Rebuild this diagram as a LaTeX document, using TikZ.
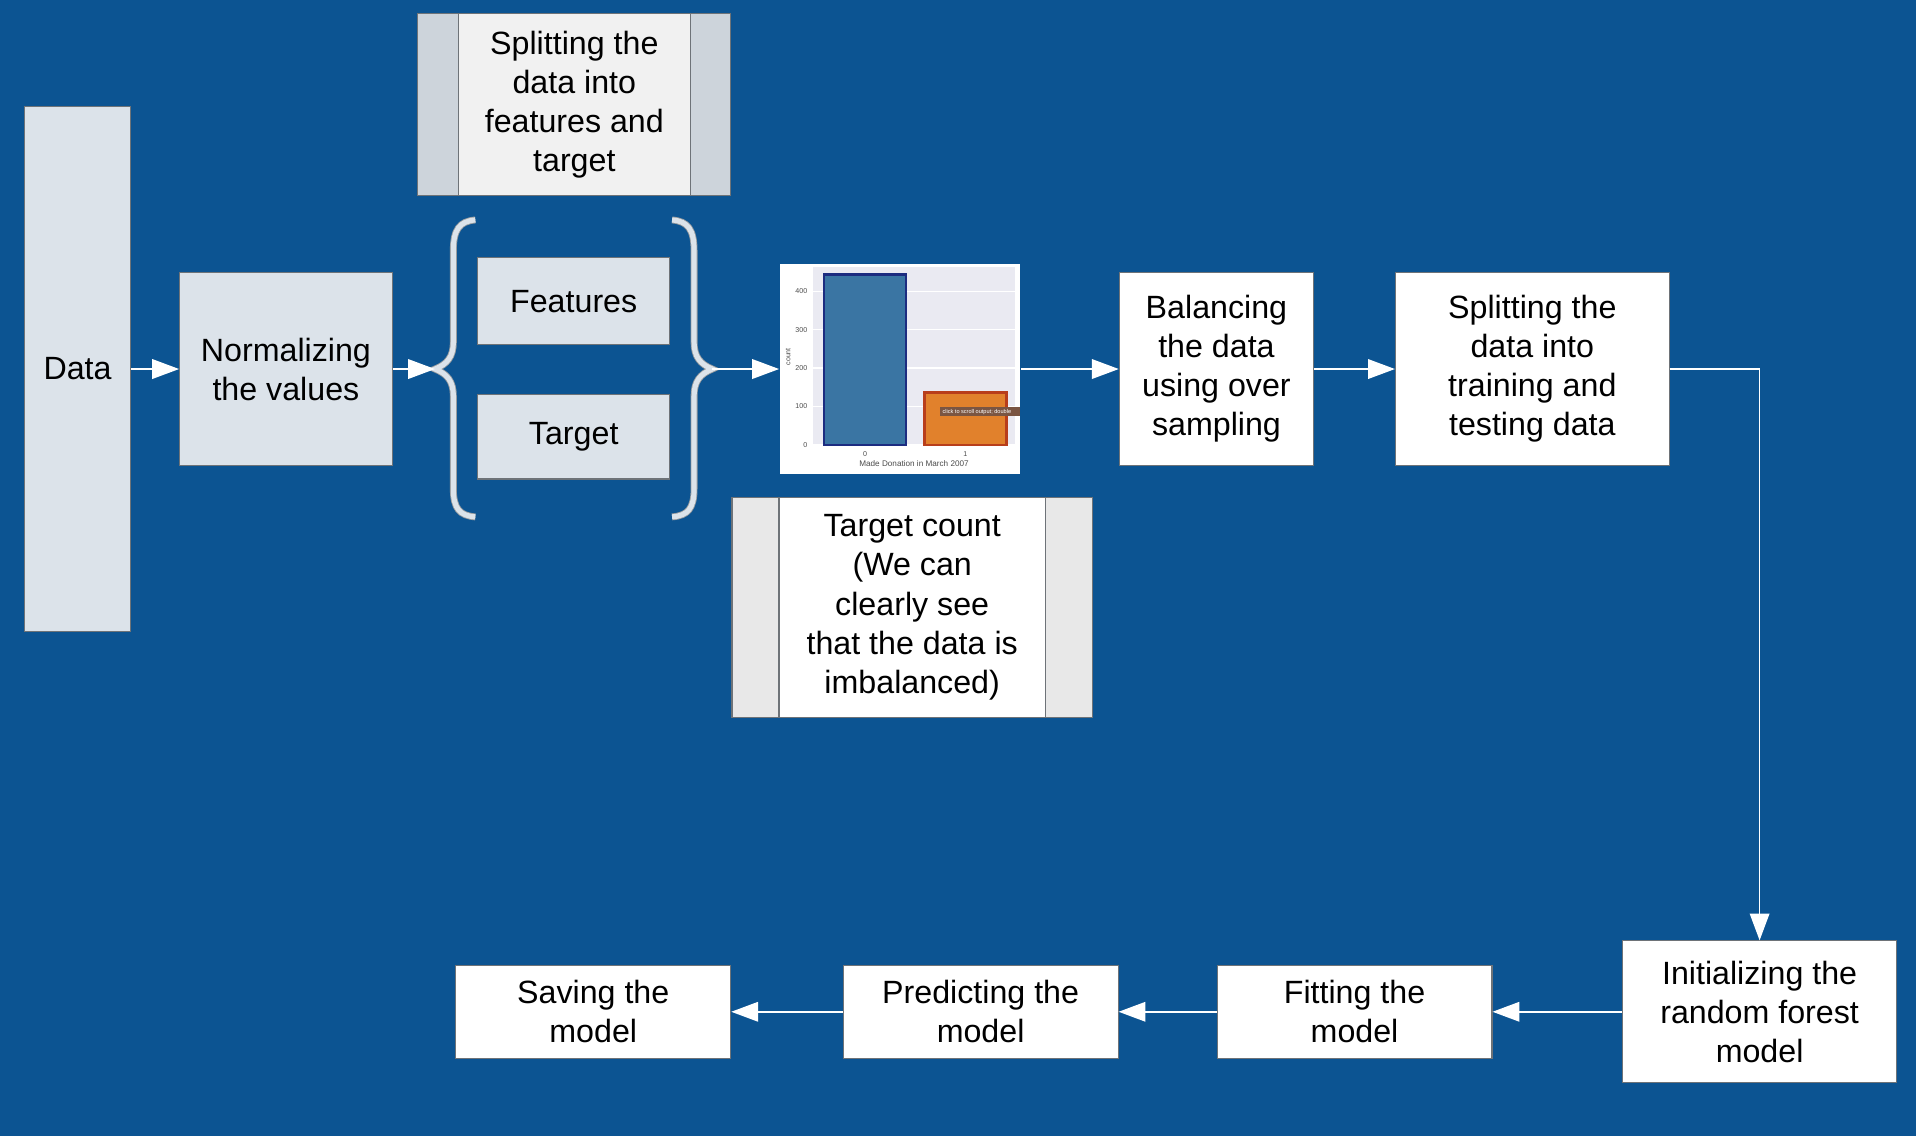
\documentclass[tikz,border=0pt]{standalone}
\usepackage{fontspec}
\setmainfont{Liberation Sans}
\usetikzlibrary{arrows.meta}
\definecolor{bgblue}{HTML}{0C5492}
\definecolor{boxline}{HTML}{6E7378}
\definecolor{lightfill}{HTML}{DCE3EA}
\definecolor{sidegray}{HTML}{CDD4DB}
\definecolor{innergray}{HTML}{F1F1F1}
\definecolor{sidelight}{HTML}{E8E8E8}
\definecolor{plotgray}{HTML}{EAEAF2}
\definecolor{barblue}{HTML}{3A75A3}
\definecolor{baredgeblue}{HTML}{1C2C80}
\definecolor{barorange}{HTML}{E1812C}
\definecolor{baredgeorange}{HTML}{B83E1B}
\definecolor{tipbrown}{HTML}{7A5542}
\tikzset{
  box/.style={rectangle, draw=boxline, line width=0.5pt, align=center, inner sep=0pt,
    font=\fontsize{15}{18.2}\selectfont},
  lightbox/.style={box, fill=lightfill},
  whitebox/.style={box, fill=white},
  sidebox/.style n args={3}{box, fill=#1, path picture={
    \fill[#2] ([xshift=#3]path picture bounding box.south west) rectangle ([xshift=-#3]path picture bounding box.north east);
    \draw[boxline, line width=0.5pt] ([xshift=#3]path picture bounding box.south west) -- ([xshift=#3]path picture bounding box.north west);
    \draw[boxline, line width=0.5pt] ([xshift=-#3]path picture bounding box.south east) -- ([xshift=-#3]path picture bounding box.north east);}},
  flow/.style={draw=white, line width=0.8pt, -{Triangle[length=0.44cm, width=0.32cm]}},
  brace/.style={draw=boxline!70, line width=0.4pt, double=lightfill, double distance=2.4pt},
  tick/.style={text=black!70, inner sep=0pt, font=\fontsize{3.3}{4}\selectfont}
}
\begin{document}
\begin{tikzpicture}[x=0.02cm, y=-0.02cm]
\fill[bgblue] (0,0) rectangle (1568,930);

\node[lightbox, minimum width=1.74cm, minimum height=8.6cm] (D) at (63.5,302) {Data};
\node[lightbox, minimum width=3.48cm, minimum height=3.16cm] (N) at (234,302) {Normalizing\\the values};
\node[sidebox={sidegray}{innergray}{0.66cm}, minimum width=5.12cm, minimum height=2.98cm] (T) at (470,85.5) {Splitting the\\data into\\features and\\target};
\node[lightbox, minimum width=3.14cm, minimum height=1.42cm] (Fe) at (469.5,246.5) {Features};
\node[lightbox, minimum width=3.14cm, minimum height=1.38cm] (Ta) at (469.5,357.5) {Target};
\node[box, draw=none, fill=white, minimum width=3.94cm, minimum height=3.44cm] (C) at (736.5,302) {};
\node[sidebox={sidelight}{white}{0.77cm}, minimum width=5.9cm, minimum height=3.6cm] (K) at (746.5,497) {Target count\\(We can\\clearly see\\that the data is\\imbalanced)};
\node[whitebox, minimum width=3.18cm, minimum height=3.16cm] (B) at (995.5,302) {Balancing\\the data\\using over\\sampling};
\node[whitebox, minimum width=4.48cm, minimum height=3.16cm] (S) at (1254,302) {Splitting the\\data into\\training and\\testing data};
\node[whitebox, minimum width=4.48cm, minimum height=2.32cm] (I) at (1440,828) {Initializing the\\random forest\\model};
\node[whitebox, minimum width=4.5cm, minimum height=1.52cm] (F) at (1108.5,828) {Fitting the\\model};
\node[whitebox, minimum width=4.5cm, minimum height=1.52cm] (P) at (802.5,828) {Predicting the\\model};
\node[whitebox, minimum width=4.5cm, minimum height=1.52cm] (V) at (485.5,828) {Saving the\\model};

\coordinate (BL) at (356,302);
\coordinate (BR) at (583,302);
\draw[brace] (389,180) .. controls (376,181) and (371,188) .. (371,205) -- (371,280)
  .. controls (371,292) and (366,298) .. (BL) .. controls (366,306) and (371,312) .. (371,324)
  -- (371,400) .. controls (371,416) and (376,422) .. (389,423);
\draw[brace] (550,180) .. controls (563,181) and (568,188) .. (568,205) -- (568,280)
  .. controls (568,292) and (573,298) .. (BR) .. controls (573,306) and (568,312) .. (568,324)
  -- (568,400) .. controls (568,416) and (563,422) .. (550,423);

\fill[plotgray] (665,218.5) rectangle (830.5,364);
\foreach \v in {0,100,...,400} {
  \draw[white, line width=0.6pt] (665,{364-0.314*\v}) -- (830.5,{364-0.314*\v});
  \node[tick, anchor=east] at (661,{364-0.314*\v}) {\v};
}
\fill[barblue, draw=baredgeblue, line width=1.2pt] (674.5,364) rectangle (741.5,224.5);
\fill[barorange, draw=baredgeorange, line width=1.2pt] (756.5,364) rectangle (823.5,321);
\fill[tipbrown] (769,333) rectangle (835,340.5);
\node[tick, text=white, anchor=west, font=\fontsize{2.6}{3}\selectfont] at (771,336.8) {click to scroll output; double};
\node[tick, rotate=90] at (645,292) {count};
\node[tick] at (708,371.5) {0};
\node[tick] at (790,371.5) {1};
\node[tick, font=\fontsize{3.8}{4.5}\selectfont] at (748,379.5) {Made Donation in March 2007};

\draw[flow] (D) -- (N);
\draw[flow] (N) -- (BL);
\draw[flow] (BR) -- (C);
\draw[flow] (C) -- (B);
\draw[flow] (B) -- (S);
\draw[flow] (S.east) -| (I.north);
\draw[flow] (I) -- (F);
\draw[flow] (F) -- (P);
\draw[flow] (P) -- (V);
\end{tikzpicture}
\end{document}
